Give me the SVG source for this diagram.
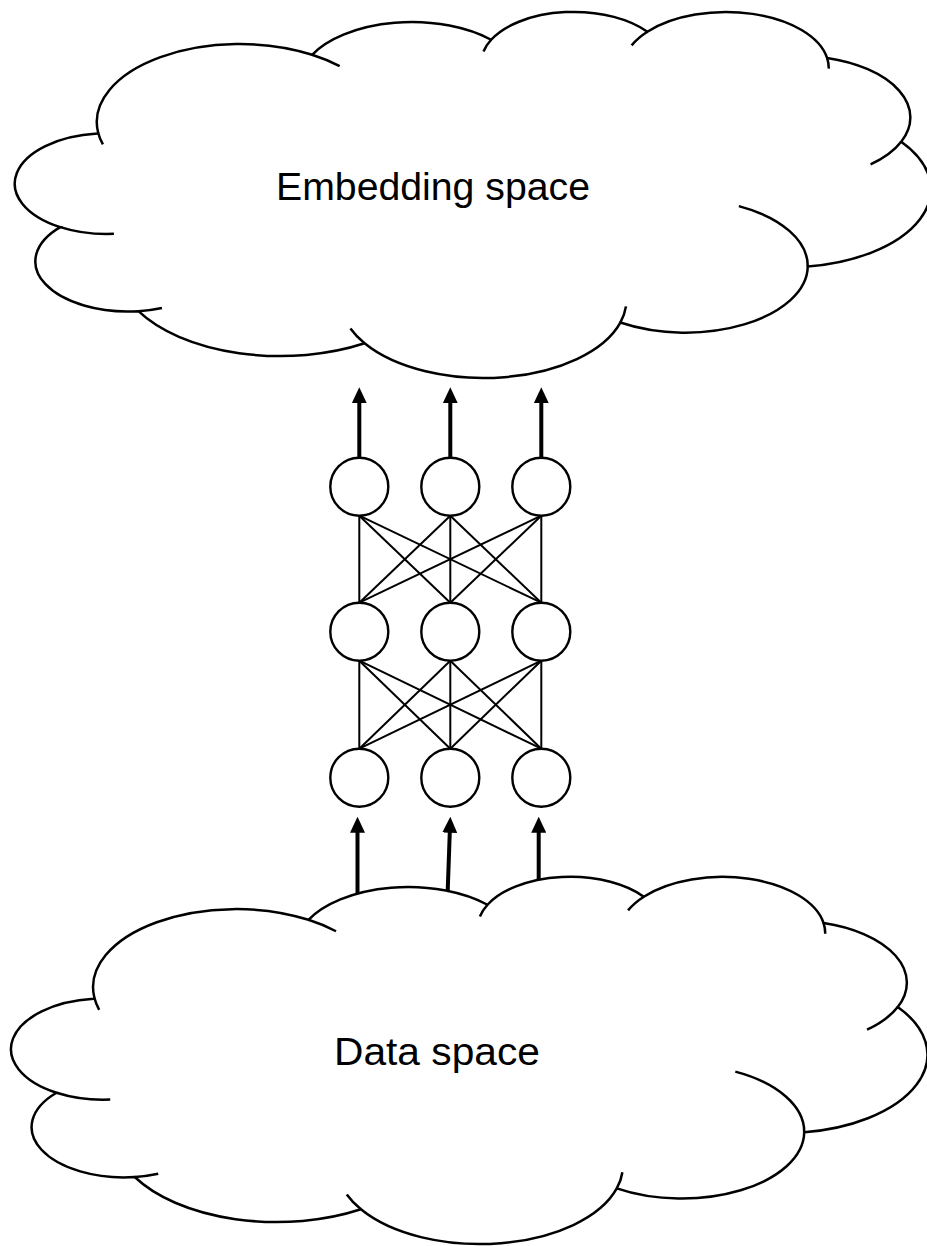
<svg xmlns="http://www.w3.org/2000/svg" xmlns:xlink="http://www.w3.org/1999/xlink" width="927" height="1246" viewBox="0 0 927 1246">
  <style>
    .cloud-body { fill: #ffffff; stroke: #000000; stroke-width: 2.5; vector-effect: non-scaling-stroke; }
    .cloud-fold { fill: none; stroke: #000000; stroke-width: 2.5; vector-effect: non-scaling-stroke; }
    .label { font-family: "Liberation Sans", Arial, sans-serif; font-size: 38px; fill: #000000; }
    .neuron { fill: #ffffff; stroke: #000000; stroke-width: 2.4; }
    .link { stroke: #000000; stroke-width: 2; fill: none; }
    .arrow { stroke: #000000; stroke-width: 4; fill: none; marker-end: url(#arrowhead); }
  </style>
  <defs>
    <marker id="arrowhead" markerUnits="userSpaceOnUse" viewBox="0 0 16 15" markerWidth="16" markerHeight="15" refX="1" refY="7.5" orient="auto">
      <path d="M0,0 L16,7.5 L0,15 Z" fill="#000000"/>
    </marker>
    <!-- cloud outline in a 43200 x 43200 unit box -->
    <g id="cloud-shape">
      <path class="cloud-body" d="M3900,14370 A6753,9190 0 0 1 14005,5202 A5333,7267 0 0 1 22456,3432 A4365,5945 0 0 1 29833,2481 A4857,6595 0 0 1 38318,5576 A5333,7273 0 0 1 41819,15459 A6775,9220 0 0 1 37405,30203 A5785,7867 0 0 1 28557,36813 A6752,9215 0 0 1 16481,39264 A7720,10543 0 0 1 5805,35470 A4360,5918 0 0 1 2114,25548 A4345,5945 0 0 1 3864,14504 Z"/>
      <path class="cloud-fold" d="M4647,26345 A4345,5945 0 0 1 2114,25548 M6914,35088 A4360,5918 0 0 1 5805,35470 M16481,39264 A6752,9215 0 0 1 15813,37524 M28823,34904 A6752,9215 0 0 1 28557,36813 M34153,23067 A5785,7867 0 0 1 37405,30203 M41819,15459 A5333,7273 0 0 1 40371,18135 M38318,5576 A4857,6595 0 0 1 38395,6839 M29091,4092 A4857,6595 0 0 1 29833,2481 M22097,4822 A4365,5945 0 0 1 22456,3432 M14005,5202 A6753,9190 0 0 1 15305,6550 M4127,15789 A6753,9190 0 0 1 3900,14370"/>
    </g>
  </defs>

  <rect x="0" y="0" width="927" height="1246" fill="#ffffff"/>

  <!-- upper cloud -->
  <g id="embedding-space">
    <use xlink:href="#cloud-shape" href="#cloud-shape" transform="translate(15.5,10.7) scale(0.02118,0.008471)"/>
    <text class="label" x="276" y="200" textLength="314" lengthAdjust="spacingAndGlyphs">Embedding space</text>
  </g>

  <!-- lower cloud -->
  <g id="data-space">
    <use xlink:href="#cloud-shape" href="#cloud-shape" transform="translate(11.75,875.6) scale(0.021186,0.008498)"/>
    <text class="label" x="334" y="1065" textLength="206" lengthAdjust="spacingAndGlyphs">Data space</text>
  </g>

  <!-- connectors: layer links and input/output arrows -->
  <g id="connectors">
    <!-- output layer to hidden layer -->
    <line class="link" x1="359.3" y1="515.7" x2="359.3" y2="602.7"/>
    <line class="link" x1="359.3" y1="515.7" x2="450.3" y2="602.7"/>
    <line class="link" x1="359.3" y1="515.7" x2="541.3" y2="602.7"/>
    <line class="link" x1="450.3" y1="515.7" x2="359.3" y2="602.7"/>
    <line class="link" x1="450.3" y1="515.7" x2="450.3" y2="602.7"/>
    <line class="link" x1="450.3" y1="515.7" x2="541.3" y2="602.7"/>
    <line class="link" x1="541.3" y1="515.7" x2="359.3" y2="602.7"/>
    <line class="link" x1="541.3" y1="515.7" x2="450.3" y2="602.7"/>
    <line class="link" x1="541.3" y1="515.7" x2="541.3" y2="602.7"/>
    <!-- hidden layer to input layer -->
    <line class="link" x1="359.3" y1="660.7" x2="359.3" y2="748.7"/>
    <line class="link" x1="359.3" y1="660.7" x2="450.3" y2="748.7"/>
    <line class="link" x1="359.3" y1="660.7" x2="541.3" y2="748.7"/>
    <line class="link" x1="450.3" y1="660.7" x2="359.3" y2="748.7"/>
    <line class="link" x1="450.3" y1="660.7" x2="450.3" y2="748.7"/>
    <line class="link" x1="450.3" y1="660.7" x2="541.3" y2="748.7"/>
    <line class="link" x1="541.3" y1="660.7" x2="359.3" y2="748.7"/>
    <line class="link" x1="541.3" y1="660.7" x2="450.3" y2="748.7"/>
    <line class="link" x1="541.3" y1="660.7" x2="541.3" y2="748.7"/>
    <!-- outputs into the embedding space -->
    <line class="arrow" x1="359.3" y1="457.7" x2="359.3" y2="402.3"/>
    <line class="arrow" x1="450.3" y1="457.7" x2="450.3" y2="402.3"/>
    <line class="arrow" x1="541.3" y1="457.7" x2="541.3" y2="402.3"/>
    <!-- inputs from the data space -->
    <line class="arrow" x1="357.5" y1="893.5" x2="357.5" y2="831.7"/>
    <line class="arrow" x1="447.7" y1="891" x2="449.8" y2="831.7"/>
    <line class="arrow" x1="538.7" y1="880" x2="538.7" y2="831.7"/>
  </g>

  <!-- network units -->
  <g id="out-1"><circle class="neuron" cx="359.3" cy="486.7" r="29"/></g>
  <g id="out-2"><circle class="neuron" cx="450.3" cy="486.7" r="29"/></g>
  <g id="out-3"><circle class="neuron" cx="541.3" cy="486.7" r="29"/></g>
  <g id="hid-1"><circle class="neuron" cx="359.3" cy="631.7" r="29"/></g>
  <g id="hid-2"><circle class="neuron" cx="450.3" cy="631.7" r="29"/></g>
  <g id="hid-3"><circle class="neuron" cx="541.3" cy="631.7" r="29"/></g>
  <g id="in-1"><circle class="neuron" cx="359.3" cy="777.7" r="29"/></g>
  <g id="in-2"><circle class="neuron" cx="450.3" cy="777.7" r="29"/></g>
  <g id="in-3"><circle class="neuron" cx="541.3" cy="777.7" r="29"/></g>
</svg>
